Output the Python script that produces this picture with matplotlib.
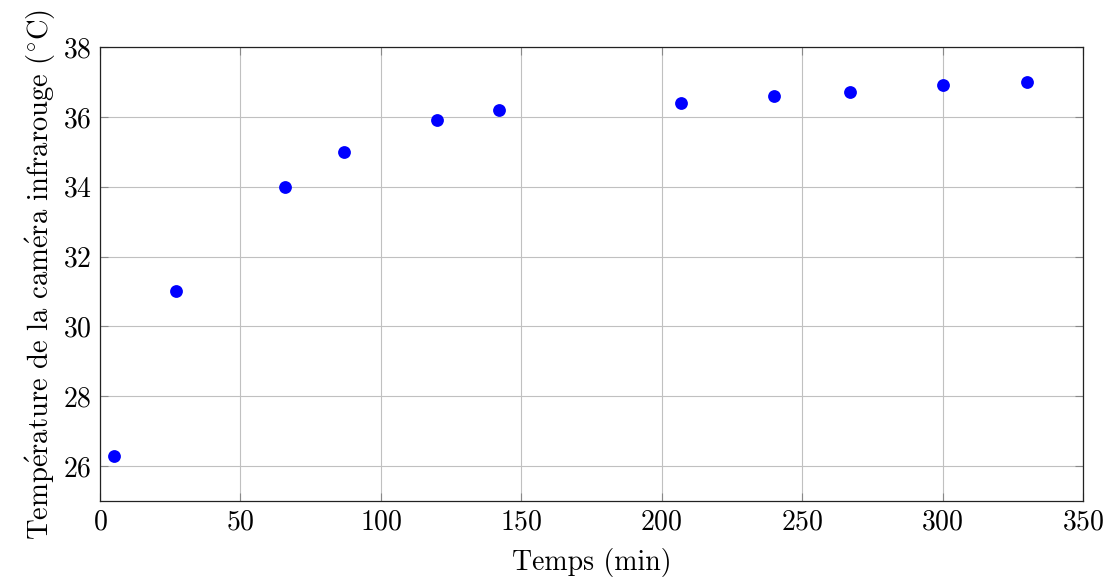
import matplotlib
matplotlib.use("Agg")
import matplotlib.pyplot as plt

temps_min = [5, 27, 66, 87, 120, 142, 207, 240, 267, 300, 330]
temperature = [26.3, 31.0, 34.0, 35.0, 35.9, 36.2, 36.4, 36.6, 36.7, 36.9, 37.0]
xticks = [0, 50, 100, 150, 200, 250, 300, 350]
yticks = [26, 28, 30, 32, 34, 36, 38]

plt.rcParams['font.family'] = ['cmr10', 'DejaVu Serif']
plt.rcParams['mathtext.fontset'] = 'cm'
plt.rcParams['axes.formatter.use_mathtext'] = True

fs = 20
fig = plt.figure(figsize=(11.1, 5.78), dpi=100)
ax = fig.add_axes([0.0901, 0.1332, 0.8856, 0.7855])
ax.scatter(temps_min, temperature, s=85, color=(0, 0, 1), zorder=3, linewidths=0)
ax.set_xlim(0, 350)
ax.set_ylim(25, 38)
ax.set_xticks(xticks)
ax.set_yticks(yticks)
ax.grid(True, color='#c0c0c0', linewidth=0.8)
ax.set_axisbelow(True)
ax.tick_params(direction='in', length=5.5, width=0.8, top=True, right=True, color='#888888', labelsize=fs, pad=6)
for s in ax.spines.values():
    s.set_linewidth(0.9)
    s.set_color('#222222')
ax.set_xlabel('Temps (min)', fontsize=fs, labelpad=9)
ax.set_ylabel(r'Temp$\mathrm{\acute{e}}$rature de la cam$\mathrm{\acute{e}}$ra infrarouge ($^{\circ}$C)',
              fontsize=20.6, labelpad=3)
fig.savefig('out.png', dpi=100)
